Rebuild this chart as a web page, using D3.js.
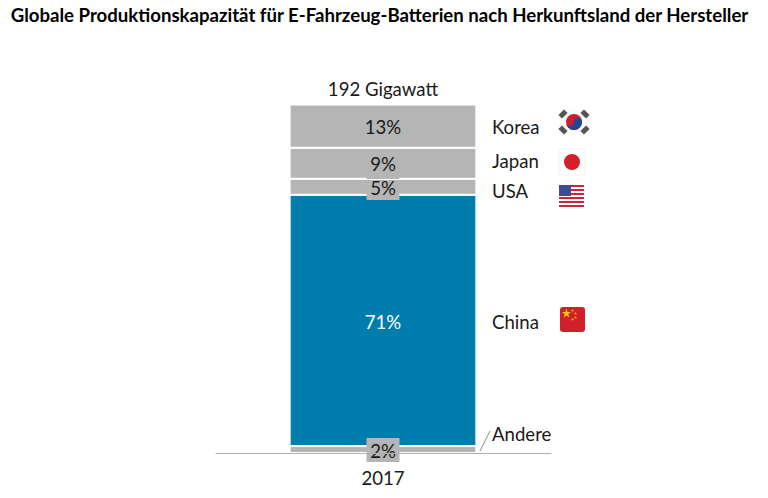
<!DOCTYPE html>
<html>
<head>
<meta charset="utf-8">
<script src="https://cdnjs.cloudflare.com/ajax/libs/d3/7.8.5/d3.min.js"></script>
<style>
  html, body { margin: 0; padding: 0; background: #fff; }
  text { font-family: Lato, "Open Sans", sans-serif; fill: #1a1a1a; }
</style>
</head>
<body>
<div id="chart"></div>
<script>
// Daten
const countries = ["Andere", "China", "USA", "Japan", "Korea"];
const shares = [2.0, 72.1, 4.6, 8.9, 12.4];      // sichtbare Segmenthoehe
const shareLabels = ["2%", "71%", "5%", "9%", "13%"];
const years = ["2017"];
const totalLabel = "192 Gigawatt";
const title = "Globale Produktionskapazität für E-Fahrzeug-Batterien nach Herkunftsland der Hersteller";

const grey = "#b5b5b5", blue = "#007dac";
const fontSize = 18.6;

const svg = d3.select("#chart").append("svg")
  .attr("width", 768).attr("height", 498)
  .style("display", "block");

svg.append("text").attr("x", 379.5).attr("y", 22)
  .attr("text-anchor", "middle")
  .attr("font-size", 18.6).attr("font-weight", 700)
  .style("fill", "#000")
  .text(title);

const x = d3.scaleBand().domain(years).range([215, 551]).paddingInner(0).paddingOuter(0.4);
const y = d3.scaleLinear().domain([0, 100]).range([453, 104.5]);

// Stapel
let cum = 0;
const stackData = countries.map((c, i) => {
  const d = { country: c, y0: cum, y1: cum + shares[i], label: shareLabels[i] };
  cum = d.y1;
  return d;
});

const g = svg.append("g");

g.selectAll("rect.seg").data(stackData).join("rect")
  .attr("class", "seg")
  .attr("x", x("2017"))
  .attr("width", x.bandwidth())
  .attr("y", d => y(d.y1))
  .attr("height", d => y(d.y0) - y(d.y1))
  .attr("fill", d => d.country === "China" ? blue : grey)
  .attr("stroke", "#fff")
  .attr("stroke-width", 2);

// Grundlinie
const axis = d3.axisBottom(x).tickSize(0).tickPadding(19);
const axisG = svg.append("g").attr("transform", "translate(0,453)").call(axis);
axisG.select(".domain").attr("stroke", "#b0b0b0").attr("stroke-width", 1);
axisG.selectAll("text").attr("font-size", fontSize).style("font-family", "Lato, sans-serif").attr("fill", "#1a1a1a");

const cx = x("2017") + x.bandwidth() / 2;

// Werte mit grauem Hintergrund
const labelBox = { "5%": 1, "2%": 1 };
const labelY = { "13%": 127, "9%": 164, "5%": 188, "71%": 322, "2%": 451 };

g.selectAll("rect.lab").data(stackData.filter(d => labelBox[d.label])).join("rect")
  .attr("class", "lab")
  .attr("x", cx - 16.5)
  .attr("width", 33)
  .attr("y", d => labelY[d.label] - (d.label === "2%" ? 13 : 8))
  .attr("height", d => d.label === "2%" ? 24 : 20)
  .attr("fill", grey);

g.append("rect").attr("x", cx - 16.5).attr("width", 33)
  .attr("y", 155).attr("height", 24).attr("fill", grey);

g.selectAll("text.val").data(stackData).join("text")
  .attr("class", "val")
  .attr("x", cx)
  .attr("y", d => labelY[d.label])
  .attr("dy", "0.35em")
  .attr("text-anchor", "middle")
  .attr("font-size", fontSize)
  .style("fill", d => d.country === "China" ? "#fff" : "#1a1a1a")
  .text(d => d.label);

svg.append("text").attr("x", cx).attr("y", 96)
  .attr("text-anchor", "middle").attr("font-size", fontSize)
  .text(totalLabel);

// Laendernamen
const nameY = { Korea: 127, Japan: 161, USA: 191, China: 322, Andere: 434 };
svg.selectAll("text.name").data(countries).join("text")
  .attr("class", "name")
  .attr("x", 492)
  .attr("y", d => nameY[d])
  .attr("dy", "0.35em")
  .attr("font-size", fontSize)
  .text(d => d);

// Fuehrungslinie Andere
svg.append("line").attr("x1", 480).attr("y1", 451).attr("x2", 490).attr("y2", 431)
  .attr("stroke", "#8c8c8c").attr("stroke-width", 1);

// Flaggen
function korea(f) {
  f.append("rect").attr("x", -15).attr("y", -13).attr("width", 30).attr("height", 26).attr("fill", "#fbfbfb").attr("rx", 2);
  f.append("circle").attr("r", 8).attr("fill", "#c9202f");
  f.append("path").attr("d", "M-8,0A8,8 0 0,0 8,0A4,4 0 0,0 0,0A4,4 0 0,1 -8,0Z").attr("fill", "#1d4a96");
  // Trigramme als kurze Balken quer zur Diagonale
  [[-11, -8, -45], [11, -8, 45], [-11, 8, 45], [11, 8, -45]].forEach(t => {
    f.append("rect").attr("x", -4).attr("y", -2.5).attr("width", 8).attr("height", 5)
      .attr("fill", "#555").attr("transform", `translate(${t[0]},${t[1]}) rotate(${t[2]})`);
  });
}
function japan(f) {
  f.append("rect").attr("x", -13).attr("y", -13).attr("width", 26).attr("height", 26).attr("rx", 2)
    .attr("fill", "#fff").attr("stroke", "#f1f1f1");
  f.append("circle").attr("r", 8).attr("fill", "#d2202c");
}
function usa(f) {
  f.append("rect").attr("x", -12.5).attr("y", -11).attr("width", 25).attr("height", 22).attr("rx", 3).attr("fill", "#fff");
  d3.range(6).forEach(i => {
    f.append("rect").attr("x", -12.5).attr("y", -11 + i * 4).attr("width", 25).attr("height", 2).attr("fill", "#c8283c");
  });
  f.append("rect").attr("x", -12.5).attr("y", -11).attr("width", 12).attr("height", 11).attr("fill", "#3f4e94");
}
function china(f) {
  f.append("rect").attr("x", -12.5).attr("y", -12.5).attr("width", 25).attr("height", 25).attr("rx", 3).attr("fill", "#d2202a");
  f.append("path").attr("d", d3.symbol(d3.symbolStar, 28)()).attr("transform", "translate(-6,-6)").attr("fill", "#f6c21c");
  [[0, -9], [3, -6], [3, -2], [0, 0]].forEach(p => {
    f.append("path").attr("d", d3.symbol(d3.symbolStar, 3)()).attr("transform", `translate(${p[0]},${p[1]})`).attr("fill", "#f6c21c");
  });
}
[[574, 122, korea], [572, 162, japan], [571.5, 196, usa], [572.5, 319.5, china]].forEach(a => {
  a[2](svg.append("g").attr("transform", `translate(${a[0]},${a[1]})`));
});
</script>
</body>
</html>
